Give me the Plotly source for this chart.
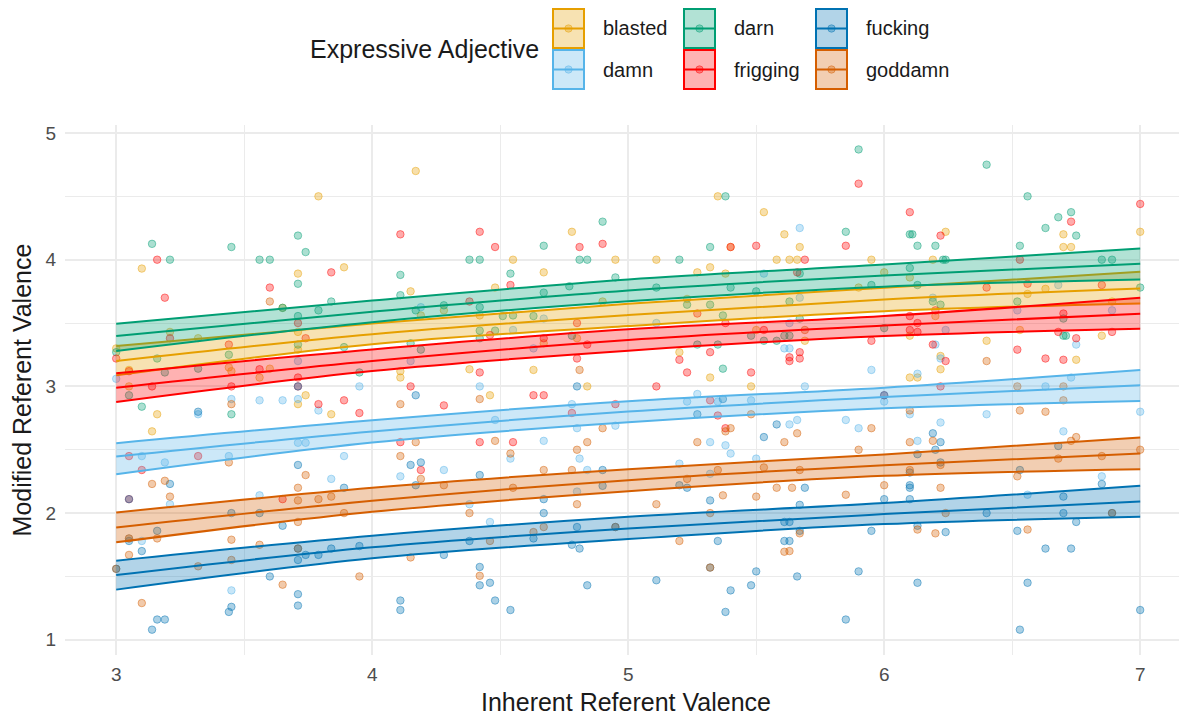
import plotly.graph_objects as go

# ---------------- data ----------------
groups = ["blasted", "damn", "darn", "frigging", "fucking", "goddamn"]
colors = {"blasted": "#E69F00", "damn": "#56B4E9", "darn": "#009E73",
          "frigging": "#FF0000", "fucking": "#0072B2", "goddamn": "#D55E00"}

fit_x = [3, 4, 5, 6, 7]
fit_lower = {
    "blasted":  [3.087, 3.332, 3.476, 3.594, 3.655],
    "damn":     [2.307, 2.557, 2.717, 2.827, 2.885],
    "darn":     [3.279, 3.507, 3.671, 3.787, 3.844],
    "frigging": [2.877, 3.121, 3.282, 3.397, 3.455],
    "fucking":  [1.396, 1.643, 1.795, 1.913, 1.971],
    "goddamn":  [1.769, 2.010, 2.173, 2.294, 2.347],
}
fit_mid = {
    "blasted":  [3.200, 3.411, 3.563, 3.686, 3.773],
    "damn":     [2.447, 2.644, 2.801, 2.916, 3.009],
    "darn":     [3.397, 3.589, 3.757, 3.876, 3.968],
    "frigging": [2.990, 3.200, 3.366, 3.481, 3.574],
    "fucking":  [1.511, 1.730, 1.879, 1.992, 2.092],
    "goddamn":  [1.887, 2.097, 2.260, 2.378, 2.470],
}
fit_upper = {
    "blasted":  [3.318, 3.497, 3.652, 3.779, 3.905],
    "damn":     [2.552, 2.733, 2.883, 2.990, 3.129],
    "darn":     [3.495, 3.678, 3.844, 3.962, 4.088],
    "frigging": [3.103, 3.292, 3.450, 3.555, 3.700],
    "fucking":  [1.624, 1.821, 1.971, 2.079, 2.215],
    "goddamn":  [2.005, 2.200, 2.347, 2.463, 2.597],
}

blasted_pts = [(3.10,3.93),(3.79,4.50),(3.71,3.89),(3.89,3.94),(3.65,3.62),(3.71,3.43),(3.71,3.29),(3.0,3.30),
    (3.05,3.13),(3.05,3.0),(3.21,3.43),(3.32,3.38),(3.44,3.15),(3.45,3.12),(3.56,3.07),(3.60,3.14),(3.74,2.93),
    (4.11,3.07),(3.16,2.78),(3.14,2.645),(3.84,2.78),(3.71,2.86),(4.17,4.70),(4.15,3.75),(4.55,4.0),(4.48,3.78),
    (4.67,3.90),(4.78,4.22),(4.95,4.0),(4.90,3.67),(4.19,3.56),(4.28,3.60),(4.42,3.56),(4.67,3.34),(4.80,3.38),
    (4.38,3.135),(4.63,3.13),(4.11,3.12),(4.46,2.93),(4.84,3.0),(5.11,4.0),(5.35,4.50),(5.53,4.375),(5.61,4.20),
    (5.63,4.0),(5.40,4.10),(5.27,3.90),(5.32,3.94),(5.38,3.89),(5.23,3.69),(5.50,3.445),(5.20,3.27),(5.32,3.07),
    (5.48,3.0),(7.0,4.22),(6.24,4.22),(6.70,4.20),(6.70,4.10),(6.73,4.10),(5.67,4.10),(5.58,4.0),(5.66,4.0),
    (5.95,4.0),(6.19,4.0),(6.0,3.90),(6.10,3.86),(5.90,3.78),(6.56,3.73),(6.63,3.77),(6.89,3.67),(6.20,3.555),
    (6.10,3.40),(6.53,3.445),(6.85,3.40),(5.69,3.36),(6.40,3.36),(6.22,3.24),(6.75,3.21),(6.22,3.135),(6.10,3.07),
    (6.13,3.07)]
damn_pts = [(3.0,3.06),(3.71,3.20),(3.95,3.0),(3.45,2.90),(3.56,2.89),(3.65,2.89),(3.71,2.90),(3.32,2.78),
    (3.79,2.81),(3.10,2.45),(3.19,2.40),(3.44,2.45),(3.71,2.555),(3.74,2.555),(3.89,2.45),(3.84,2.27),(3.21,2.07),
    (3.56,2.14),(3.05,1.80),(3.10,1.78),(3.45,1.39),(4.19,3.625),(4.67,3.535),(4.55,3.445),(4.15,3.20),(4.63,3.30),
    (4.42,3.0),(4.78,2.86),(5.11,3.50),(5.53,3.89),(5.27,2.94),(5.23,2.88),(5.35,2.88),(5.48,2.89),(5.63,3.30),
    (5.63,3.50),(4.48,2.735),(4.80,2.67),(4.95,2.69),(5.63,2.70),(5.32,2.56),(5.38,2.535),(5.40,2.47),(4.11,2.29),
    (4.28,2.34),(4.54,2.43),(4.67,2.57),(4.81,2.43),(4.84,2.34),(4.80,2.17),(4.38,2.07),(4.46,1.93),(5.20,2.39),
    (5.32,2.31),(5.50,2.43),(5.67,4.25),(6.68,3.80),(5.67,3.70),(6.19,3.70),(6.52,3.60),(6.89,3.60),(6.24,3.445),
    (6.20,3.33),(5.61,3.30),(6.22,3.22),(6.75,3.33),(5.95,3.13),(6.13,3.10),(5.69,3.0),(6.0,2.88),(6.63,3.0),
    (6.73,3.07),(7.0,2.80),(6.40,2.78),(5.66,2.735),(5.85,2.735),(5.90,2.67),(6.10,2.78),(6.22,2.715),(6.13,2.57),
    (6.70,2.645),(6.85,2.29),(6.56,2.145)]
darn_pts = [(3.14,4.125),(3.21,4.0),(3.45,4.10),(3.56,4.0),(3.60,4.0),(3.71,4.19),(3.74,4.06),(3.71,3.81),
    (3.65,3.62),(3.84,3.67),(3.79,3.60),(3.71,3.555),(3.71,3.33),(3.89,3.31),(3.0,3.27),(3.16,3.22),(3.19,3.11),
    (3.32,3.14),(3.44,3.25),(3.05,2.93),(3.10,2.84),(3.95,3.11),(3.45,2.78),(4.11,3.88),(4.11,3.72),(4.38,4.0),
    (4.42,4.0),(4.54,3.89),(4.67,4.11),(4.67,3.74),(4.81,4.0),(4.84,4.0),(4.90,4.30),(4.95,3.86),(4.77,3.79),
    (4.17,3.60),(4.28,3.64),(4.42,3.625),(4.51,3.555),(4.55,3.56),(4.63,3.555),(4.42,3.44),(4.48,3.44),(4.42,3.38),
    (4.15,3.34),(4.19,3.29),(4.78,3.40),(5.20,4.0),(5.38,4.50),(5.32,4.10),(5.11,3.78),(5.40,3.78),(5.50,3.75),
    (5.23,3.645),(5.32,3.645),(5.37,3.56),(5.48,3.40),(5.53,3.36),(5.27,3.33),(5.35,3.33),(5.37,3.14),(5.63,3.67),
    (5.63,3.40),(5.90,4.87),(6.40,4.75),(6.56,4.50),(6.68,4.335),(6.73,4.375),(5.85,4.22),(6.10,4.20),(6.11,4.20),
    (6.13,4.11),(6.20,4.11),(6.63,4.25),(6.75,4.19),(6.53,4.11),(6.23,4.0),(6.24,4.0),(6.85,4.0),(6.89,4.0),
    (5.67,3.89),(6.10,3.935),(6.13,3.80),(5.95,3.80),(7.0,3.78),(6.19,3.67),(6.22,3.645),(6.52,3.67),(6.70,3.535),
    (5.67,3.535),(6.0,3.46),(6.70,3.40),(6.71,3.40),(5.58,3.36),(5.61,3.40)]
frigging_pts = [(3.16,4.0),(3.19,3.70),(3.60,3.78),(3.84,3.90),(3.71,3.50),(3.74,3.38),(3.0,3.22),(3.05,3.12),
    (3.14,3.0),(3.21,3.38),(3.44,3.33),(3.45,3.0),(3.56,3.135),(3.71,3.07),(3.71,3.0),(3.79,2.86),(3.89,2.89),
    (3.95,2.79),(3.05,2.45),(3.10,2.34),(3.32,2.45),(3.05,2.11),(3.65,2.11),(4.11,4.20),(4.42,4.22),(4.48,4.10),
    (4.54,3.80),(4.81,4.10),(4.90,4.125),(4.38,3.67),(4.46,3.405),(4.67,3.38),(4.80,3.50),(4.84,3.33),(4.80,3.22),
    (4.42,3.11),(4.15,3.0),(4.28,2.85),(4.63,2.93),(4.67,2.93),(4.95,2.86),(4.11,2.56),(4.42,2.56),(4.55,2.56),
    (4.19,2.34),(4.78,2.79),(5.40,4.10),(5.50,4.11),(5.27,3.575),(5.38,3.50),(5.53,3.445),(5.32,3.27),(5.20,3.21),
    (5.23,3.11),(5.48,3.11),(5.11,3.0),(5.32,2.89),(5.63,3.23),(5.63,3.20),(5.35,2.77),(5.38,2.67),(5.90,4.60),
    (7.0,4.44),(6.10,4.375),(6.73,4.30),(5.85,4.11),(6.22,4.19),(6.53,4.0),(5.69,4.0),(5.66,3.90),(6.56,3.81),
    (6.40,3.78),(6.85,3.80),(6.20,3.60),(6.10,3.555),(6.13,3.50),(6.70,3.575),(6.10,3.445),(6.13,3.43),(6.68,3.43),
    (6.75,3.38),(6.89,3.43),(5.95,3.36),(6.19,3.33),(5.67,3.27),(5.67,3.22),(6.52,3.29),(6.24,3.20),(6.63,3.22),
    (6.70,3.21),(6.22,3.0),(6.0,2.93)]
fucking_pts = [(3.71,3.0),(4.17,2.93),(3.32,2.80),(3.71,2.38),(3.05,2.11),(3.21,2.23),(3.89,2.20),(3.45,2.0),
    (3.56,2.0),(3.65,1.90),(3.05,1.78),(3.16,1.86),(3.10,1.70),(3.71,1.72),(3.74,1.67),(3.79,1.67),(3.84,1.72),
    (3.95,1.74),(3.71,1.63),(3.0,1.56),(3.60,1.50),(3.45,1.26),(3.44,1.22),(3.71,1.36),(3.71,1.27),(3.16,1.16),
    (3.19,1.16),(3.14,1.08),(4.11,1.31),(4.11,1.235),(4.80,3.0),(5.37,2.90),(4.15,2.38),(4.19,2.40),(4.17,2.22),
    (4.42,2.30),(4.67,2.11),(4.67,2.0),(4.90,2.34),(4.90,2.215),(4.80,1.89),(4.95,1.89),(4.63,1.80),(4.38,1.78),
    (4.28,1.67),(4.78,1.75),(4.81,1.72),(4.42,1.575),(4.42,1.43),(4.46,1.45),(4.48,1.31),(4.54,1.235),(4.84,1.43),
    (5.11,1.47),(5.27,2.78),(5.53,2.60),(5.20,2.22),(5.23,2.20),(5.32,2.10),(5.35,1.78),(5.32,1.57),(5.40,1.39),
    (5.38,1.22),(5.50,1.54),(5.48,1.43),(5.63,1.93),(5.63,1.78),(5.58,2.70),(6.19,2.63),(6.22,2.56),(6.20,2.50),
    (6.13,2.465),(6.68,2.53),(6.22,2.40),(6.10,2.32),(5.69,2.20),(6.10,2.22),(6.10,2.20),(6.53,2.34),(6.85,2.23),
    (6.70,2.13),(5.67,2.065),(6.0,2.11),(6.10,2.11),(5.61,1.93),(5.67,1.86),(5.95,1.86),(6.13,1.90),(6.24,1.85),
    (6.40,2.0),(6.70,2.0),(6.89,2.0),(6.52,1.86),(6.75,1.93),(5.61,1.78),(6.63,1.72),(6.73,1.72),(5.66,1.50),
    (5.90,1.54),(6.13,1.45),(6.56,1.45),(5.85,1.16),(6.53,1.08),(7.0,1.235),(6.0,2.93)]
goddamn_pts = [(3.60,3.67),(3.45,2.86),(4.11,2.86),(3.44,2.40),(3.74,2.30),(3.14,2.23),(3.19,2.255),(3.21,2.13),
    (3.71,2.20),(3.71,2.10),(3.79,2.11),(3.84,2.13),(3.89,2.0),(3.71,1.93),(3.05,1.80),(3.16,1.80),(3.05,1.67),
    (3.45,1.79),(3.56,1.75),(3.45,1.63),(3.71,1.72),(3.0,1.56),(3.32,1.58),(3.65,1.435),(3.95,1.50),(3.10,1.29),
    (4.81,3.13),(4.42,2.90),(4.17,2.56),(4.48,2.57),(4.90,2.67),(5.48,2.78),(5.40,2.67),(5.38,2.645),(5.27,2.56),
    (5.61,2.56),(4.11,2.45),(4.19,2.27),(4.28,2.22),(4.54,2.47),(4.55,2.20),(4.67,2.34),(4.67,1.89),(4.80,2.50),
    (4.84,2.56),(4.78,2.34),(4.80,2.07),(4.95,1.89),(4.63,1.85),(4.38,2.0),(4.46,1.78),(4.15,1.65),(4.42,1.505),
    (5.11,2.07),(5.23,2.27),(5.20,1.78),(5.32,2.0),(5.35,2.34),(5.37,2.14),(5.32,1.57),(5.53,2.36),(5.50,2.13),
    (5.63,1.70),(5.64,2.20),(6.53,2.81),(6.63,2.80),(5.66,2.63),(5.95,2.67),(6.10,2.81),(6.19,2.57),(6.10,2.56),
    (5.90,2.50),(6.73,2.57),(6.75,2.60),(6.68,2.43),(6.85,2.45),(7.0,2.50),(5.67,2.34),(6.22,2.38),(6.10,2.34),
    (5.58,2.20),(5.85,2.145),(6.0,2.22),(6.22,2.20),(6.52,2.29),(5.67,1.84),(6.13,1.87),(6.20,1.84),(6.24,2.0),
    (6.89,2.0),(6.56,1.87),(5.61,1.695),(6.52,3.0),(6.70,2.89),(6.70,3.0),(5.69,3.445),(6.40,3.20)]

points = {"blasted": blasted_pts, "damn": damn_pts, "darn": darn_pts,
          "frigging": frigging_pts, "fucking": fucking_pts, "goddamn": goddamn_pts}

legend_title = "Expressive Adjective"
x_title = "Inherent Referent Valence"
y_title = "Modified Referent Valence"
x_ticks = [3, 4, 5, 6, 7]
y_ticks = [1, 2, 3, 4, 5]

FONT = "Liberation Sans, Arial, sans-serif"


def rgba(hex_color, a):
    h = hex_color.lstrip("#")
    r, g, b = int(h[0:2], 16), int(h[2:4], 16), int(h[4:6], 16)
    return f"rgba({r},{g},{b},{a})"


fig = go.Figure()

# jittered points
for g in groups:
    xs = [p[0] for p in points[g]]
    ys = [p[1] for p in points[g]]
    fig.add_trace(go.Scatter(
        x=xs, y=ys, mode="markers", showlegend=False, name=g,
        marker=dict(size=7.5, color=rgba(colors[g], 0.33),
                    line=dict(color=rgba(colors[g], 0.45), width=1))))

# ribbons
for g in groups:
    fig.add_trace(go.Scatter(x=fit_x, y=fit_lower[g], mode="lines", showlegend=False,
                             line=dict(color=colors[g], width=2, shape="spline"), name=g))
    fig.add_trace(go.Scatter(x=fit_x, y=fit_upper[g], mode="lines", showlegend=False,
                             fill="tonexty", fillcolor=rgba(colors[g], 0.3),
                             line=dict(color=colors[g], width=2, shape="spline"), name=g))
# mid lines
for g in groups:
    fig.add_trace(go.Scatter(x=fit_x, y=fit_mid[g], mode="lines", showlegend=False,
                             line=dict(color=colors[g], width=2, shape="spline"), name=g))

# ---------------- layout geometry (page pixels; page body has an 8px margin) ----------------
OFF = 8
W, H = 1187, 715
PX0, PX1, PY0, PY1 = 65 - OFF, 1187 - OFF, 125 - OFF, 655 - OFF


def px(xp):
    return (xp - OFF - PX0) / (PX1 - PX0)


def py(yp):
    return (PY1 - (yp - OFF)) / (PY1 - PY0)


shapes = []
annotations = []
col_x = [553, 684, 816]
row_y = [9, 50]
legend_order = [["blasted", "damn"], ["darn", "frigging"], ["fucking", "goddamn"]]
kw, kh = 31, 39
for ci, col in enumerate(legend_order):
    for ri, g in enumerate(col):
        x0 = col_x[ci]
        y0 = row_y[ri]
        c = colors[g]
        shapes.append(dict(type="rect", xref="paper", yref="paper",
                           x0=px(x0), x1=px(x0 + kw), y0=py(y0 + kh), y1=py(y0),
                           fillcolor=rgba(c, 0.3), line=dict(color=c, width=2)))
        shapes.append(dict(type="line", xref="paper", yref="paper",
                           x0=px(x0 + 1), x1=px(x0 + kw - 1), y0=py(y0 + kh / 2), y1=py(y0 + kh / 2),
                           line=dict(color=c, width=2)))
        shapes.append(dict(type="circle", xref="paper", yref="paper",
                           x0=px(x0 + kw / 2 - 3.7), x1=px(x0 + kw / 2 + 3.7),
                           y0=py(y0 + kh / 2 + 3.7), y1=py(y0 + kh / 2 - 3.7),
                           fillcolor=rgba(c, 0.33), line=dict(color=rgba(c, 0.45), width=1)))
        annotations.append(dict(text=g, xref="paper", yref="paper", x=px(x0 + kw + 17),
                                y=py(y0 + kh / 2), xanchor="left", yanchor="middle", showarrow=False,
                                font=dict(size=20, color="#1a1a1a", family=FONT)))

annotations.append(dict(text=legend_title, xref="paper", yref="paper", x=px(541), y=py(49),
                        xanchor="right", yanchor="middle", showarrow=False,
                        font=dict(size=25, color="#1a1a1a", family=FONT)))

fig.update_layout(
    width=W, height=H,
    margin=dict(l=PX0, r=W - PX1, t=PY0, b=H - PY1, autoexpand=False),
    paper_bgcolor="white", plot_bgcolor="white",
    font=dict(family=FONT, color="#4d4d4d"),
    shapes=shapes, annotations=annotations, showlegend=False,
    xaxis=dict(range=[2.8, 2.8 + (PX1 - PX0) / 256.0], tickvals=x_ticks, ticktext=[str(t) for t in x_ticks],
               showgrid=True, gridcolor="#EBEBEB", gridwidth=1.8, zeroline=False, showline=False,
               ticks="", tickfont=dict(size=19, color="#4d4d4d"), automargin=False,
               ticklabelstandoff=6,
               minor=dict(dtick=0.5, tick0=2.5, showgrid=True, gridcolor="#EBEBEB", gridwidth=0.9),
               title=dict(text=x_title, font=dict(size=25, color="#1a1a1a"), standoff=9)),
    yaxis=dict(range=[0.88, 5.063], tickvals=y_ticks, ticktext=[str(t) for t in y_ticks],
               showgrid=True, gridcolor="#EBEBEB", gridwidth=1.8, zeroline=False, showline=False,
               ticks="", tickfont=dict(size=19, color="#4d4d4d"), automargin=False,
               ticklabelstandoff=8,
               minor=dict(dtick=0.5, tick0=0.5, showgrid=True, gridcolor="#EBEBEB", gridwidth=0.9),
               title=dict(text=y_title, font=dict(size=25, color="#1a1a1a"), standoff=6)),
)

fig.write_html("out.html")
